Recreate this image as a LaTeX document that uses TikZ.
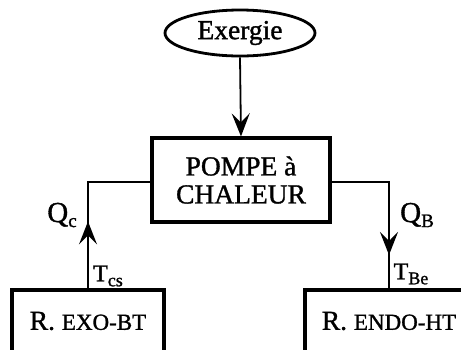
\documentclass[tikz,border=0pt]{standalone}
\usepackage{fontspec}
\setmainfont[FakeBold=1.2]{Liberation Serif}
\usetikzlibrary{shapes.geometric,arrows.meta}
\begin{document}
\begin{tikzpicture}[x=1pt,y=-1pt,
  bigtxt/.style={font=\fontsize{27.5}{30}\selectfont},
  boxstyle/.style={draw,line width=3.2pt,rectangle,inner sep=0pt,bigtxt,align=center},
  conn/.style={line width=1.8pt},
  arr/.style={conn,-{Stealth[length=23pt,width=18pt,inset=9pt]}},
  lbl/.style={font=\fontsize{29}{31}\selectfont,inner sep=0pt}
]
\useasboundingbox (0,0) rectangle (461,349);
\node[draw,ellipse,line width=2.8pt,minimum width=150pt,minimum height=46pt,inner sep=0pt,bigtxt] (ex) at (240,33) {Exergie};
\node[boxstyle,minimum width=178pt,minimum height=84pt] (pac) at (241,180) {POMPE à\\[-2pt]CHALEUR};
\node[boxstyle,minimum width=152pt,minimum height=62pt] (exo) at (88,321) {R. {\fontsize{23}{25}\selectfont EXO-BT}};
\node[boxstyle,minimum width=168pt,minimum height=62pt] (endo) at (389,321) {R. {\fontsize{23}{25}\selectfont ENDO-HT}};
\coordinate (lc) at (88,182);
\coordinate (rc) at (389,182);
\draw[arr] (ex.south) -- (pac.north);
\draw[conn] (exo.north) -- (lc) -- (lc -| pac.west);
\draw[arr] (exo.north) -- ++(0,-67);
\draw[conn] (rc -| pac.east) -- (rc) -- (endo.north);
\draw[arr] (rc) -- ++(0,73);
\node[lbl] (qc) at (62,215) {Q\raisebox{-5pt}{\fontsize{19}{20}\selectfont c}};
\node[lbl,font=\fontsize{24}{26}\selectfont] (tcs) at (108,276) {T\raisebox{-5pt}{\fontsize{18}{19}\selectfont cs}};
\node[lbl] (qb) at (417,215) {Q\raisebox{-5pt}{\fontsize{19}{20}\selectfont B}};
\node[lbl,font=\fontsize{24}{26}\selectfont] (tbe) at (411,274) {T\raisebox{-5pt}{\fontsize{18}{19}\selectfont Be}};
\end{tikzpicture}
\end{document}
